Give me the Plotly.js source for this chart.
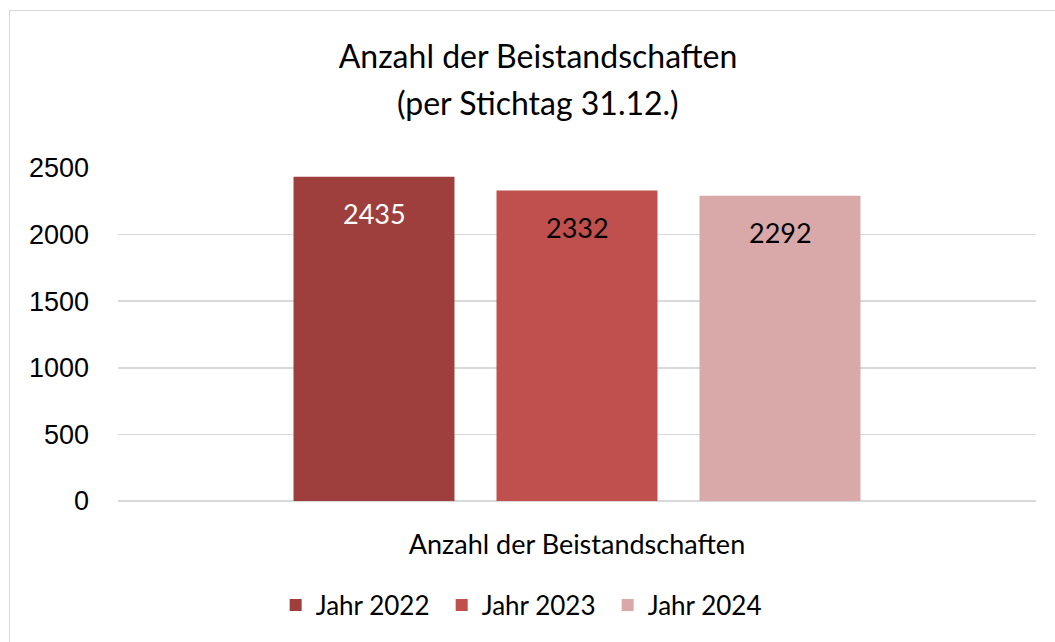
<!DOCTYPE html>
<html>
<head>
<meta charset="utf-8">
<script src="https://cdn.plot.ly/plotly-3.0.1.min.js"></script>
<style>
html,body{margin:0;padding:0;background:#fff;}
#wrap{position:relative;width:1055px;height:642px;overflow:hidden;}
#frame{position:absolute;left:9px;top:10px;width:1100px;height:700px;border:1.5px solid #d9d9d9;box-sizing:border-box;pointer-events:none;z-index:5;}
#chart{position:absolute;left:0;top:0;width:1055px;height:642px;}
</style>
</head>
<body>
<div id="wrap"><div id="chart"></div><div id="frame"></div></div>
<script>
const categories = ["Anzahl der Beistandschaften"];
const seriesNames = ["Jahr 2022", "Jahr 2023", "Jahr 2024"];
const seriesValues = [[2435], [2332], [2292]];
const seriesColors = ["#9e3f3e", "#c0504d", "#d9a9aa"];
const labelColors = ["#ffffff", "#000000", "#000000"];
const titleLines = ["Anzahl der Beistandschaften", "(per Stichtag 31.12.)"];
const yTicks = [0, 500, 1000, 1500, 2000, 2500];

const geo = "Lato, 'Noto Sans', sans-serif";
const traces = seriesNames.map((n, i) => ({
  type: "bar",
  name: n,
  x: categories,
  y: seriesValues[i],
  marker: {color: seriesColors[i]},
  hoverinfo: "none"
}));

const slotPx = 203;
const annotations = [];
seriesValues.forEach((vals, i) => {
  vals.forEach((v, j) => {
    annotations.push({
      xref: "x", yref: "y", x: categories[j], y: v,
      xshift: (i - 1) * slotPx, yshift: -37,
      text: String(v), showarrow: false,
      font: {family: geo, size: 27, color: labelColors[i]},
      xanchor: "center", yanchor: "middle"
    });
  });
});
annotations.push({
  xref: "paper", yref: "paper", x: 0.4575, y: (501 - 102) / 333,
  text: titleLines[1], showarrow: false, xanchor: "center", yanchor: "middle",
  font: {family: geo, size: 32, color: "#000"}
});

const layout = {
  width: 1055, height: 642,
  margin: {l: 118, r: 19, t: 168, b: 141},
  paper_bgcolor: "#fff", plot_bgcolor: "#fff",
  title: {text: titleLines[0], x: 0.51, xanchor: "center", yref: "container", y: 1 - 57/642, yanchor: "middle",
          font: {family: geo, size: 32, color: "#000"}},
  barmode: "group",
  bargap: 0.3366,
  bargroupgap: 0.207,
  xaxis: {type: "category", showgrid: false, zeroline: false, showline: false, ticks: "",
          tickfont: {family: geo, size: 27, color: "#000"}, ticklabelstandoff: 25, fixedrange: true, automargin: false},
  yaxis: {range: [0, 2500], tickvals: yTicks, ticktext: yTicks.map(String), showgrid: true,
          gridcolor: "#d9d9d9", gridwidth: 1.5, zeroline: true, zerolinecolor: "#d9d9d9", zerolinewidth: 1.5,
          showline: false, ticks: "", tickfont: {family: "'Liberation Sans', Arial, sans-serif", size: 27, color: "#000"},
          ticklabelstandoff: 28, fixedrange: true, automargin: false},
  legend: {orientation: "h", x: 0.443, xanchor: "center", yref: "container", y: 1 - 605/642, yanchor: "middle",
           font: {family: geo, size: 26, color: "#000"}, itemwidth: 30, traceorder: "normal",
           entrywidth: 121, entrywidthmode: "pixels"},
  annotations: annotations,
  showlegend: true
};

Plotly.newPlot("chart", traces, layout, {displayModeBar: false, staticPlot: true});
</script>
</body>
</html>
